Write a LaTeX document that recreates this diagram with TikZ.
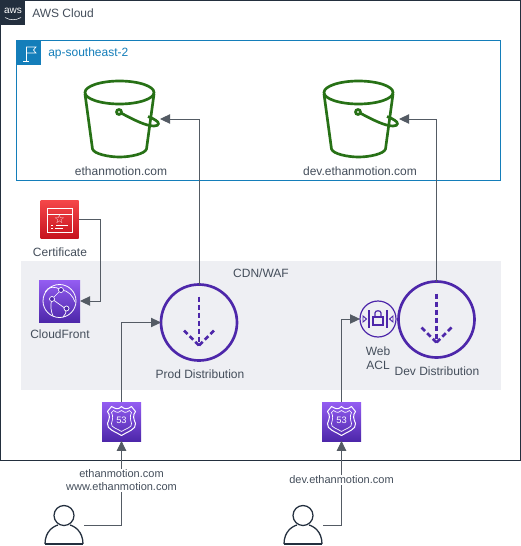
\documentclass[tikz,border=0pt]{standalone}
\usepackage{fontspec}
\setmainfont{Liberation Sans}
\usetikzlibrary{arrows.meta}
\definecolor{ink}{HTML}{232F3E}
\definecolor{conn}{HTML}{545B64}
\definecolor{regionblue}{HTML}{147EBA}
\definecolor{bucketgreen}{HTML}{277116}
\definecolor{purp}{HTML}{4D27AA}
\definecolor{purplight}{HTML}{945DF2}
\definecolor{redtop}{HTML}{F54749}
\definecolor{redbot}{HTML}{C7131F}
\definecolor{cdnbg}{HTML}{EEEFF3}
\tikzset{
  x=0.75pt,y=-0.75pt,
  lbl/.style={font=\fontsize{9}{10.5}\selectfont,text=ink!85!white,inner sep=0pt,align=center},
  smalllbl/.style={font=\fontsize{8.25}{9.75}\selectfont,text=ink!85!white,inner ysep=1pt,inner xsep=0pt,align=center,fill=white},
  box/.style={draw=none,inner sep=0pt,outer sep=0pt},
  conn/.style={draw=conn,line width=0.75pt,-{Triangle[length=7.5pt,width=7pt]}},
  usr/.style={draw=ink,line width=0.95pt},
  pics/bucket/.style={code={
    \draw[bucketgreen,line width=2pt] (0.5,-32.5) ellipse [x radius=34.5,y radius=11.5];
    \draw[bucketgreen,line width=2pt,line join=round] (-34,-31) -- (-26.5,24) .. controls (-25,29) and (-10,32) .. (0.5,32) .. controls (11,32) and (26,29) .. (27.5,24) -- (35,-31);
    \draw[bucketgreen,line width=2pt] (0,-13) circle [radius=2.5];
    \draw[bucketgreen,line width=2pt] (2,-12) .. controls (15,-5) and (27,1) .. (35,1) .. controls (41,1) and (40,-3) .. (37,-4.5) .. controls (35,-6) and (32,-7.5) .. (29,-8.5);
  }},
  pics/distro/.style={code={
    \draw[purp,line width=2pt] (0,0) circle [radius=38];
    \draw[purp,line width=2pt,dash pattern=on 3.75pt off 2.25pt] (0,-26) -- (0,23);
    \draw[purp,line width=2pt,dash pattern=on 3.75pt off 2.25pt] (-15,8) -- (0,23);
    \draw[purp,line width=2pt,dash pattern=on 3.75pt off 2.25pt] (15,8) -- (0,23);
  }},
  pics/rfiftythree/.style={code={
    \shade[bottom color=purp,top color=purplight] (-19.5,-19.5) rectangle (19.5,19.5);
    \draw[white,line width=0.75pt,line join=round] (-10,-15) .. controls (-5,-12) and (-3,-12) .. (0,-15) .. controls (3,-12) and (6,-12) .. (10,-15) -- (14,-10) .. controls (11,-6) and (12,-3) .. (14,2) .. controls (15,8) and (6,10) .. (0,14) .. controls (-6,10) and (-15,8) .. (-14,2) .. controls (-12,-3) and (-11,-6) .. (-14,-10) -- cycle;
    \draw[white,line width=0.5pt,line join=round] (-8,-11) .. controls (-4,-8) and (-2,-9) .. (0,-11) .. controls (2,-9) and (4,-8) .. (8,-11) -- (10,-9) .. controls (8,-5) and (9,-2) .. (10,2) .. controls (11,6) and (4,7) .. (0,10) .. controls (-4,7) and (-11,6) .. (-10,2) .. controls (-9,-2) and (-8,-5) .. (-10,-9) -- cycle;
    \node[text=white,inner sep=0pt,font=\fontsize{7}{8}\selectfont] at (0,-1) {53};
  }},
  pics/aclicon/.style={code={
    \draw[purp,line width=0.9pt] (0,0) circle [radius=18];
    \draw[purp,line width=0.9pt] (-9,-9) -- (-9,9) (9,-9) -- (9,9);
    \draw[purp,line width=0.9pt] (-5,-2) rectangle (5,6);
    \draw[purp,line width=0.9pt] (-3,-2) -- (-3,-6) .. controls (-3,-9) and (3,-9) .. (3,-6) -- (3,-2);
    \draw[purp,line width=0.7pt] (-15,-3) -- (-11.5,0) -- (-15,3) -- cycle;
    \draw[purp,line width=0.7pt] (15,-3) -- (11.5,0) -- (15,3) -- cycle;
  }},
  pics/person/.style={code={
    \draw[usr] (0,-9.5) circle [radius=10];
    \draw[usr] (-19,19) .. controls (-19,6) and (-10,1) .. (-6,0) (6,0) .. controls (10,1) and (19,6) .. (19,19);
    \draw[usr] (-19,19) -- (19,19);
  }}
}
\begin{document}
\begin{tikzpicture}
\useasboundingbox (0,0) rectangle (521,546);
\fill[white] (0,0) rectangle (521,546);
% groups
\fill[cdnbg] (21,261) rectangle (501,390);
\draw[ink,line width=0.75pt] (0.5,0.5) rectangle (520.5,460);
\draw[regionblue,line width=0.75pt] (16.5,40.5) rectangle (500.5,180.5);
% AWS badge
\fill[ink] (0,0) rectangle (25,25);
\node[text=white,inner sep=0pt,font=\fontsize{7.5}{8}\selectfont] (awsmark) at (13,10.5) {aws};
\draw[white,line width=0.4pt] (5,17.5) .. controls (10,20.5) and (16,20.5) .. (21,17.5);
\node[lbl,anchor=west] (cloudlbl) at (32,13.5) {AWS Cloud};
% Region badge
\fill[regionblue] (16,40) rectangle (41,65);
\draw[white,line width=0.5pt] (26,47) -- (26,61.5) (23,61.5) -- (29,61.5);
\draw[white,line width=0.5pt] (26,47) -- (36,47) -- (33.5,50) -- (36,53) -- (26,53);
\node[lbl,anchor=west,text=regionblue] (regionlbl) at (48,53.5) {ap-southeast-2};
% Buckets
\pic at (119,125) {bucket};
\pic at (358,125) {bucket};
\coordinate (bucketAin) at (160,119);
\coordinate (bucketBin) at (399,119);
\node[lbl] (bucketAlbl) at (121,171.5) {ethanmotion.com};
\node[lbl] (bucketBlbl) at (360,171.5) {dev.ethanmotion.com};
% Certificate
\node[box,minimum width=28.5pt,minimum height=28.5pt,top color=redtop,bottom color=redbot] (cert) at (59.5,219) {};
\draw[white,line width=0.5pt] (47,208) rectangle (72,232) (47,214) -- (72,214);
\node[white,inner sep=0] (certstar) at (59.5,219) {\fontspec{DejaVu Sans}\fontsize{9}{9}\selectfont ☆};
\draw[white,line width=0.5pt] (51,228) -- (53,228) (55,228) -- (63,228) (51,225) -- (53,225) (56,225) -- (68,225);
\node[lbl] (certlbl) at (60,252) {Certificate};
% CloudFront
\node[box,minimum width=30.75pt,minimum height=31.5pt,top color=purplight,bottom color=purp] (cf) at (59.5,301) {};
\draw[white,line width=0.6pt] (59.5,301) circle [radius=16.5];
\draw[white,line width=0.5pt] (52,299) -- (61,290) (52,299) -- (66,309) (61,290) .. controls (56,286) and (48,286) .. (45,292);
\draw[white,line width=0.5pt] (52,299) .. controls (50,305) and (51,312) .. (53,316) (66,309) .. controls (67,312) and (65,315) .. (63,317) (61,290) .. controls (68,290) and (73,296) .. (75,302);
\foreach \cx/\cy in {52/299,61/290,66.5/308.5}
  \filldraw[fill=purp,draw=white,line width=0.5pt] (\cx,\cy) circle [radius=2.5];
\node[lbl] (cflbl) at (60,334.5) {CloudFront};
% CDN label
\node[lbl] (cdnlbl) at (261,273.5) {CDN/WAF};
% Distributions
\node[box,circle,minimum size=57pt] (prod) at (199,322.5) {};
\pic at (199,322.5) {distro};
\node[lbl] (prodlbl) at (200,374) {Prod Distribution};
\node[box,circle,minimum size=57pt] (dev) at (436.5,319.5) {};
\pic at (436.5,319.5) {distro};
\node[lbl] (devlbl) at (437,371.5) {Dev Distribution};
% Web ACL
\node[box,circle,minimum size=27pt] (acl) at (378,319) {};
\pic at (378,319) {aclicon};
\node[lbl] (acllbl) at (378,358.5) {Web\\ACL};
% Route 53
\node[box,minimum width=29pt,minimum height=29pt] (rA) at (121.5,421.5) {};
\pic at (121.5,421.5) {rfiftythree};
\node[box,minimum width=29pt,minimum height=29pt] (rB) at (341.5,421.5) {};
\pic at (341.5,421.5) {rfiftythree};
% Users
\node[box,minimum width=30pt,minimum height=30pt] (userA) at (64,525) {};
\pic at (64,525) {person};
\node[box,minimum width=30pt,minimum height=30pt] (userB) at (303,525) {};
\pic at (303,525) {person};
% Connectors
\draw[conn] (cert.east) -- ++(22,0) |- (cf.east);
\draw[conn] (prod.north) |- (bucketAin);
\draw[conn] (dev.north) |- (bucketBin);
\draw[conn] (rA.north) |- (prod.west);
\draw[conn] (rB.north) |- (acl.west);
\draw[conn] (userA.east) -| (rA.south);
\draw[conn] (userB.east) -| (rB.south);
% On-line labels
\node[smalllbl] (userAlbl) at (121.5,480.5) {ethanmotion.com\\www.ethanmotion.com};
\node[smalllbl] (userBlbl) at (341.5,480) {dev.ethanmotion.com};
\end{tikzpicture}
\end{document}
